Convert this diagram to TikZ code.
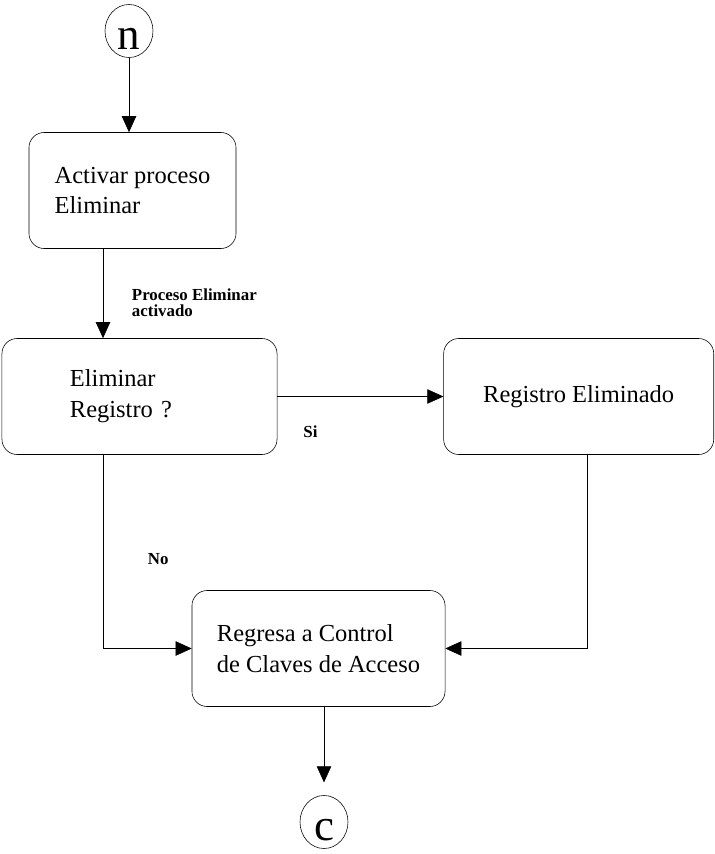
\documentclass[tikz,border=0pt]{standalone}
\usepackage{fontspec}
\setmainfont{Liberation Serif}
\usetikzlibrary{shapes,arrows.meta}
\usetikzlibrary{positioning}
\tikzset{auto, >={Triangle[length=0.4cm,width=0.36cm]}, line width=1.1pt, node distance=1cm, x=0.025cm, y=-0.025cm, font=\fontsize{17.4}{22}\selectfont}
\tikzstyle{block} = [draw, rectangle, rounded corners=0.38cm, minimum height=2.9cm, align=left]
\tikzstyle{connector} = [draw, ellipse, inner sep=0pt, minimum height=1.325cm, text height=0.9cm, text depth=0pt, font=\fontsize{32}{32}\selectfont]
\tikzstyle{note} = [font=\fontsize{12}{11.5}\selectfont\bfseries, align=left]

\begin{document}
\begin{tikzpicture}
    \useasboundingbox (0,0) rectangle (715,854);

    \node [connector, minimum width=1.2cm] (n) at (129,31) {n};
    \node [block, minimum width=5.175cm] (act) at (132.5,190.5) {Activar proceso\\Eliminar};
    \node [block, text width=3.475cm, inner xsep=1.7cm] (elim) at (139.5,396.5) {Eliminar\\Registro ?};
    \node [block, minimum width=6.75cm, right=4.15cm of elim] (reg) {Registro Eliminado};
    \node [block, minimum width=6.325cm] (back) at (318.5,648.5) {Regresa a Control\\de Claves de Acceso};
    \node [connector, minimum width=1.2cm] (c) at (324,822) {c};
    \coordinate (col) at (103,0);

    \draw [->] (n) -- (n |- act.north);
    \draw [->] (act.south -| col) -- node [note, pos=0.6, right=0.6cm] {Proceso Eliminar\\activado} (elim.north -| col);
    \draw [->] (elim) -- node [note, pos=0.2, below=0.6cm] {Si} (reg);
    \draw [->] (elim.south -| col) |- node [note, pos=0.27, right=1cm] {No} (back.west);
    \draw [->] ([xshift=0.225cm]reg.south) |- (back.east);
    \draw [->, shorten >=0.32cm] (back.south -| c) -- (c);
\end{tikzpicture}
\end{document}
